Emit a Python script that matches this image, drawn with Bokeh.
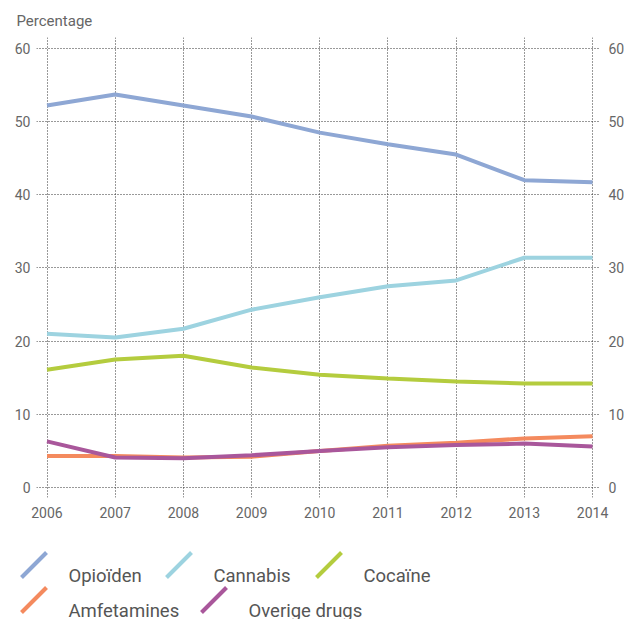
from bokeh.plotting import figure
from bokeh.models import Range1d, LinearAxis, FixedTicker, ColumnDataSource
from bokeh.embed import file_html
from bokeh.resources import INLINE
from bokeh.core.properties import value

# ---- data ----
years = [2006, 2007, 2008, 2009, 2010, 2011, 2012, 2013, 2014]
opioiden = [52.2, 53.7, 52.2, 50.7, 48.5, 46.9, 45.5, 42.0, 41.7]
cannabis = [21.0, 20.5, 21.7, 24.3, 26.0, 27.5, 28.3, 31.4, 31.4]
cocaine = [16.1, 17.5, 18.0, 16.4, 15.4, 14.9, 14.5, 14.2, 14.2]
amfetamines = [4.3, 4.3, 4.1, 4.2, 5.0, 5.7, 6.1, 6.7, 7.0]
overige = [6.3, 4.1, 4.0, 4.4, 5.0, 5.5, 5.8, 6.0, 5.6]
series_names = ["Opioïden", "Cannabis", "Cocaïne", "Amfetamines", "Overige drugs"]
y_ticks = [0, 10, 20, 30, 40, 50, 60]
y_label = "Percentage"

# ---- styles ----
colors = ["#8ea7d4", "#9dd3e0", "#b4cc3e", "#f48a5e", "#a9579b"]
FONT = "Roboto"
TXT = "#666666"

series = [opioiden, cannabis, cocaine, amfetamines, overige]

p = figure(width=628, height=530,
           x_range=Range1d(2005.846, 2014.117), y_range=Range1d(-1.37, 61.5),
           output_backend="svg", toolbar_location=None,
           min_border_left=36, min_border_right=28,
           min_border_top=37, min_border_bottom=33)
p.outline_line_color = None
p.background_fill_color = "white"
p.border_fill_color = "white"

p.title.text = y_label
p.title.text_font = FONT
p.title.text_font_size = "15px"
p.title.text_font_style = "normal"
p.title.text_color = TXT
p.title.align = "left"
p.title.offset = -20
p.title.standoff = 15

p.xaxis.ticker = FixedTicker(ticks=years)
p.yaxis.ticker = FixedTicker(ticks=y_ticks)
right = LinearAxis(ticker=FixedTicker(ticks=y_ticks))
p.add_layout(right, "right")

for ax in p.xaxis + p.yaxis:
    ax.axis_line_color = None
    ax.major_tick_line_color = None
    ax.minor_tick_line_color = None
    ax.major_tick_out = 0
    ax.major_tick_in = 0
    ax.major_label_text_font = FONT
    ax.major_label_text_font_size = "14px"
    ax.major_label_text_color = TXT
p.xaxis.major_label_standoff = 9
p.yaxis[0].major_label_standoff = 6
right.major_label_standoff = 8

for g in (p.xgrid, p.ygrid):
    g.grid_line_color = "#333333"
    g.grid_line_dash = "1 2"
    g.grid_line_width = 1

for vals, c in zip(series, colors):
    p.line(years, vals, line_color=c, line_width=4)

# ---- legend (separate strip, slash glyphs) ----
LH = 100
lf = figure(width=628, height=LH, x_range=Range1d(0, 628), y_range=Range1d(0, LH),
            output_backend="svg", toolbar_location=None,
            x_axis_type=None, y_axis_type=None, min_border=0)
lf.outline_line_color = None
lf.grid.visible = False

legend_x = [21, 166, 316, 21, 201]
legend_row = [0, 0, 0, 1, 1]
row_gap = 35
slash_base = [53 - r * row_gap for r in legend_row]
text_base = [55 - r * row_gap for r in legend_row]

src = ColumnDataSource(dict(
    x0=legend_x, y0=slash_base,
    x1=[x + 25 for x in legend_x], y1=[y + 25 for y in slash_base],
    tx=[x + 47 for x in legend_x], ty=text_base,
    name=series_names, color=colors))
lf.segment(x0="x0", y0="y0", x1="x1", y1="y1", line_color="color", line_width=4, source=src)
lf.text(x="tx", y="ty", text="name", source=src, text_font=value(FONT),
        text_font_size="18.5px", text_color="#555555", text_baseline="alphabetic")

open("out.html", "w").write(file_html([p, lf], INLINE))
